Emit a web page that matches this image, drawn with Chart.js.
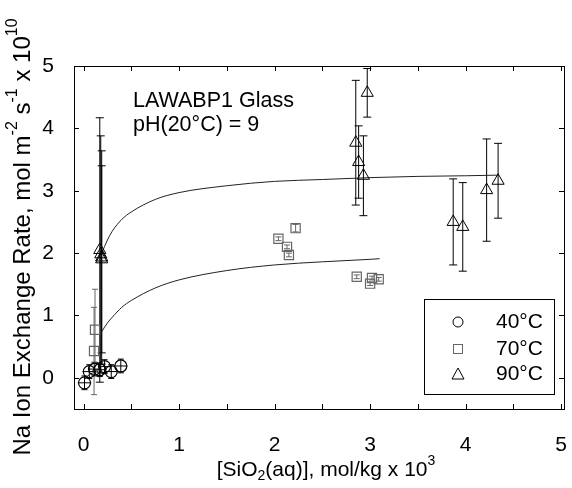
<!DOCTYPE html>
<html>
<head>
<meta charset="utf-8">
<script src="https://cdn.jsdelivr.net/npm/chart.js@4.4.0/dist/chart.umd.min.js"></script>
<style>
  html, body { margin: 0; padding: 0; background: #fff; }
</style>
</head>
<body>
<canvas id="chart_plot" width="572" height="488"></canvas>
<script>
// values
const t40x = [0.01, 0.06, 0.115, 0.17, 0.22, 0.29, 0.39];
const t40y = [-0.08, 0.10, 0.14, 0.13, 0.18, 0.10, 0.19];
const t40err = [0.11, 0.11, 0.11, 0.11, 0.11, 0.11, 0.11];
const t40xerr = [0.07, 0.07, 0.07, 0.07, 0.07, 0.07, 0.07];

const t70x = [0.11, 0.12, 2.04, 2.13, 2.15, 2.22, 2.86, 3.00, 3.02, 3.09];
const t70y = [0.43, 0.77, 2.23, 2.10, 1.97, 2.40, 1.62, 1.51, 1.60, 1.58];
const t70err = [0.70, 0.65, 0.03, 0.03, 0.03, 0.06, 0.03, 0.03, 0.03, 0.03];

const t90x = [0.17, 0.18, 0.19, 0.19, 2.85, 2.88, 2.93, 2.97, 3.87, 3.97, 4.22, 4.34];
const t90y = [2.05, 1.98, 1.93, 1.90, 3.77, 3.46, 3.24, 4.57, 2.50, 2.42, 3.01, 3.16];
const t90err = [2.12, 1.90, 1.71, 1.50, 1.00, 0.58, 0.64, 0.39, 0.69, 0.71, 0.82, 0.60];

// fitted curves
const fit90x = [0.19, 0.25, 0.3, 0.4, 0.5, 0.75, 1.0, 1.5, 2.0, 2.5, 3.0, 3.5, 4.0, 4.34];
const fit90y = [2.00, 2.21, 2.35, 2.54, 2.66, 2.86, 2.97, 3.08, 3.15, 3.18, 3.21, 3.23, 3.24, 3.25];
const fit70x = [0.19, 0.25, 0.3, 0.4, 0.5, 0.75, 1.0, 1.5, 2.0, 2.5, 3.0, 3.1];
const fit70y = [0.74, 0.88, 0.97, 1.13, 1.24, 1.44, 1.57, 1.72, 1.81, 1.86, 1.90, 1.91];
const fit40x = [0.01, 0.06, 0.12, 0.19];
const fit40y = [-0.03, 0.05, 0.09, 0.12];

const xTicks = [0, 1, 2, 3, 4, 5];
const xMinor = [0.5, 1.5, 2.5, 3.5, 4.5];
const yTicks = [0, 1, 2, 3, 4, 5];
const legendLabels = ['40°C', '70°C', '90°C'];

const FONT = '"Liberation Sans", Arial, Helvetica, sans-serif';

function pts(xs, ys) {
    return xs.map(function(x, i) { return {x: x, y: ys[i]}; });
}

// text with super/subscripts, centred on (0,0) of the current transform
function drawRich(ctx, parts, size) {
    let w = 0;
    parts.forEach(function(p) {
        ctx.font = (p.s ? Math.round(size * 0.65) : size) + 'px ' + FONT;
        p.w = ctx.measureText(p.t).width;
        w += p.w;
    });
    let x = -w / 2;
    parts.forEach(function(p) {
        ctx.font = (p.s ? Math.round(size * 0.65) : size) + 'px ' + FONT;
        let dy = 0;
        if (p.s === 'sup') dy = -size * 0.42;
        if (p.s === 'sub') dy = size * 0.28;
        ctx.fillText(p.t, x, dy);
        x += p.w;
    });
}

const errorBars = {
    id: 'errorBars',
    beforeDatasetsDraw(chart) {
        const ctx = chart.ctx, xs = chart.scales.x, ys = chart.scales.y;
        chart.data.datasets.forEach(function(ds) {
            if (!ds.yErr) return;
            ctx.save();
            ctx.strokeStyle = ds.errColor;
            ctx.lineWidth = 1;
            ds.data.forEach(function(p, i) {
                const px = xs.getPixelForValue(p.x);
                const py = ys.getPixelForValue(p.y);
                const t = ys.getPixelForValue(p.y + ds.yErr[i]);
                const b = ys.getPixelForValue(p.y - ds.yErr[i]);
                ctx.beginPath();
                ctx.moveTo(px, t); ctx.lineTo(px, b);
                ctx.moveTo(px - ds.cap, t); ctx.lineTo(px + ds.cap, t);
                ctx.moveTo(px - ds.cap, b); ctx.lineTo(px + ds.cap, b);
                if (ds.xErr) {
                    const l = xs.getPixelForValue(p.x - ds.xErr[i]);
                    const r = xs.getPixelForValue(p.x + ds.xErr[i]);
                    ctx.moveTo(l, py); ctx.lineTo(r, py);
                }
                ctx.stroke();
            });
            ctx.restore();
        });
    }
};

const frame = {
    id: 'frame',
    afterDraw(chart) {
        const ctx = chart.ctx, a = chart.chartArea;
        const xs = chart.scales.x, ys = chart.scales.y;
        ctx.save();
        ctx.strokeStyle = '#000';
        ctx.lineWidth = 1;
        ctx.strokeRect(Math.round(a.left) + 0.5, Math.round(a.top) + 0.5,
            Math.round(a.right - a.left), Math.round(a.bottom - a.top));
        ctx.beginPath();
        xTicks.concat(xMinor).forEach(function(v) {
            const px = Math.round(xs.getPixelForValue(v)) + 0.5;
            ctx.moveTo(px, a.bottom); ctx.lineTo(px, a.bottom - 5);
            ctx.moveTo(px, a.top); ctx.lineTo(px, a.top + 5);
        });
        yTicks.forEach(function(v) {
            const py = Math.round(ys.getPixelForValue(v)) + 0.5;
            ctx.moveTo(a.left, py); ctx.lineTo(a.left + 5, py);
            ctx.moveTo(a.right, py); ctx.lineTo(a.right - 5, py);
        });
        ctx.stroke();

        // annotation
        ctx.fillStyle = '#000';
        ctx.textBaseline = 'middle';
        ctx.textAlign = 'left';
        ctx.font = '21.5px ' + FONT;
        ctx.fillText('LAWABP1 Glass', 133, 101);
        ctx.fillText('pH(20°C) = 9', 133, 125);

        // legend
        ctx.fillStyle = '#fff';
        ctx.fillRect(424, 299, 130, 95);
        ctx.strokeStyle = '#000';
        ctx.strokeRect(424.5, 299.5, 130, 95);
        const rows = [322, 349, 374];
        ctx.fillStyle = '#000';
        ctx.font = '21px ' + FONT;
        legendLabels.forEach(function(lab, i) {
            ctx.fillText(lab, 496, rows[i]);
        });
        ctx.lineWidth = 1;
        ctx.strokeStyle = '#000';
        ctx.beginPath(); ctx.arc(458, rows[0], 5, 0, Math.PI * 2); ctx.stroke();
        ctx.strokeStyle = '#666';
        ctx.strokeRect(453.5, rows[1] - 4.5, 9, 9);
        ctx.strokeStyle = '#000';
        ctx.beginPath();
        ctx.moveTo(458, rows[2] - 6); ctx.lineTo(464, rows[2] + 5); ctx.lineTo(452, rows[2] + 5);
        ctx.closePath(); ctx.stroke();

        // axis titles
        ctx.textAlign = 'left';
        ctx.textBaseline = 'middle';
        ctx.save();
        ctx.translate(326, 470);
        drawRich(ctx, [{t: '[SiO'}, {t: '2', s: 'sub'}, {t: '(aq)], mol/kg x 10'}, {t: '3', s: 'sup'}], 21);
        ctx.restore();
        ctx.save();
        ctx.translate(23, 237);
        ctx.rotate(-Math.PI / 2);
        drawRich(ctx, [{t: 'Na Ion Exchange Rate, mol m'}, {t: '-2', s: 'sup'}, {t: ' s'},
            {t: '-1', s: 'sup'}, {t: ' x 10'}, {t: '10', s: 'sup'}], 24);
        ctx.restore();
        ctx.restore();
    }
};

var ctx = document.getElementById('chart_plot');

var myChart = new Chart(ctx, {
    type: 'scatter',
    data: {
        datasets: [
            {
                label: legendLabels[0],
                data: pts(t40x, t40y),
                yErr: t40err, xErr: t40xerr, cap: 3, errColor: '#000',
                pointStyle: 'circle', pointRadius: 6,
                borderColor: '#000', backgroundColor: 'rgba(0,0,0,0)', borderWidth: 1.2
            },
            {
                label: legendLabels[1],
                data: pts(t70x, t70y),
                yErr: t70err, cap: 3, errColor: '#666',
                pointStyle: 'rect', pointRadius: 6.5,
                borderColor: '#666', backgroundColor: 'rgba(0,0,0,0)', borderWidth: 1.2
            },
            {
                label: legendLabels[2],
                data: pts(t90x, t90y),
                yErr: t90err, cap: 4, errColor: '#000',
                pointStyle: 'triangle', pointRadius: 7,
                borderColor: '#000', backgroundColor: 'rgba(0,0,0,0)', borderWidth: 1
            },
            {
                data: pts(fit90x, fit90y), showLine: true, pointRadius: 0,
                borderColor: '#222', borderWidth: 1, cubicInterpolationMode: 'monotone'
            },
            {
                data: pts(fit70x, fit70y), showLine: true, pointRadius: 0,
                borderColor: '#222', borderWidth: 1, cubicInterpolationMode: 'monotone'
            },
            {
                data: pts(fit40x, fit40y), showLine: true, pointRadius: 0,
                borderColor: '#222', borderWidth: 1, cubicInterpolationMode: 'monotone'
            }
        ]
    },
    options: {
        responsive: false,
        animation: false,
        devicePixelRatio: 1,
        layout: { padding: { top: 66, right: 7, left: 0, bottom: 0 } },
        plugins: { legend: { display: false }, tooltip: { enabled: false } },
        scales: {
            x: {
                type: 'linear', min: -0.1, max: 5.03,
                afterBuildTicks: function(scale) { scale.ticks = xTicks.map(function(v) { return {value: v}; }); },
                afterFit: function(scale) { scale.height = 79; scale.paddingLeft = 0; scale.paddingRight = 0; },
                grid: { display: false },
                border: { display: false },
                ticks: { color: '#000', padding: 16, maxRotation: 0, font: { family: FONT, size: 21 } }
            },
            y: {
                type: 'linear', min: -0.5, max: 5,
                afterBuildTicks: function(scale) { scale.ticks = yTicks.map(function(v) { return {value: v}; }); },
                afterFit: function(scale) { scale.width = 74; scale.paddingTop = 0; scale.paddingBottom = 0; },
                grid: { display: false },
                border: { display: false },
                ticks: { color: '#000', padding: 12, font: { family: FONT, size: 21 } }
            }
        }
    },
    plugins: [errorBars, frame]
});
</script>
</body>
</html>
